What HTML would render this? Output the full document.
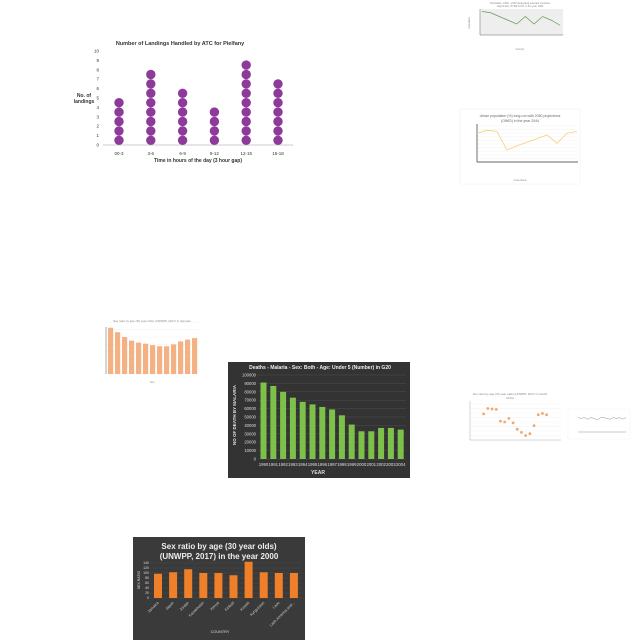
<!DOCTYPE html>
<html><head><meta charset="utf-8"><style>
body{margin:0;width:640px;height:640px;background:#fff;overflow:hidden;font-family:"Liberation Sans",sans-serif}
svg{position:absolute;left:0;top:0}
</style></head><body>
<svg id="s" width="640" height="640"></svg>
<script>
// Dot chart data
const dotCats=["00-3","3-6","6-9","9-12","12-15","15-18"];
const dotVals=[5,8,6,4,9,7];
const dotTicks=[0,1,2,3,4,5,6,7,8,9,10];
// Malaria data
const malYears=["1990","1991","1992","1993","1994","1995","1996","1997","1998","1999","2000","2001","2002","2003","2004"];
const malVals=[91000,87000,80000,73000,68000,65000,62000,59000,52000,41000,33000,33000,37000,37000,35000];
const malTicks=[0,10000,20000,30000,40000,50000,60000,70000,80000,90000,100000];
// Orange sex ratio
const orCats=["Jamaica","Japan","Jordan","Kazakhstan","Kenya","Kiribati","Kuwait","Kyrgyzstan","Laos","Latin America and..."];
const orVals=[97,103,115,100,100,91,145,103,100,100];
const orTicks=[0,20,40,60,80,100,120,140];
// small green line
const grVals=[9,8.5,7,5.5,4,7,4,7,5.5,3.5];
// urban line
const urVals=[80,88,85,33,45,55,65,75,52,80,85];
// small salmon bars
const smVals=[125,113,100,90,85,82,78,75,75,80,88,93,97];
// scatter
const scX=[1958,1962,1966,1970,1974,1978,1982,1986,1990,1994,1998,2002,2006,2010,2014,2018];
const scY=[108,120,119,118,92,90,98,88,74,67,60,64,82,106,109,106];
// tiny wave
const wvVals=[8,7,8,6,8,7,5,8,8,7,6,8,7,8,6,8];

const S=document.getElementById('s');const NS="http://www.w3.org/2000/svg";
function el(t,a,txt){const e=document.createElementNS(NS,t);for(const k in a)e.setAttribute(k,a[k]);if(txt!==undefined)e.textContent=txt;S.appendChild(e);return e;}

// ===== Dot chart =====
{const y=v=>145-v*9.4, x=i=>119+i*31.8;
let t=el('text',{x:180,y:45,'font-size':5.5,'font-weight':'bold','text-anchor':'middle',fill:'#333'},'Number of Landings Handled by ATC for Pielfany');

dotTicks.forEach(v=>{let e=el('text',{x:99,y:y(v)+1.5,'font-size':4.5,'text-anchor':'end',fill:'#333'},v);});
let a=el('line',{x1:103,x2:293,y1:145,y2:145,stroke:'#bbb','stroke-width':0.7});
el('text',{x:84,y:97,'font-size':5,'font-weight':'bold','text-anchor':'middle',fill:'#333'},'No. of');
el('text',{x:84,y:103,'font-size':5,'font-weight':'bold','text-anchor':'middle',fill:'#333'},'landings');
dotCats.forEach((c,i)=>{let e=el('text',{x:x(i),y:155,'font-size':4.5,'text-anchor':'middle',fill:'#333'},c);
for(let k=0;k<dotVals[i];k++){let d=el('circle',{cx:x(i),cy:y(k+0.5),r:4.7,fill:'#8e3a9b'});}});
el('text',{x:198,y:162,'font-size':5,'font-weight':'bold','text-anchor':'middle',fill:'#333'},'Time in hours of the day (3 hour gap)');}

// ===== green line chart =====
{el('text',{x:520,y:4,'font-size':2.5,'text-anchor':'middle',fill:'#888'},'Population, 1800 - 2100 (projected) selected countries');
el('text',{x:520,y:7,'font-size':2.5,'text-anchor':'middle',fill:'#888'},'Gapminder, HYDE & UN, in the year 1950');
let r=el('rect',{x:480,y:9,width:83,height:26,fill:'#eeeeee'});
el('line',{x1:480,x2:480,y1:9,y2:35,stroke:'#666','stroke-width':0.5});el('line',{x1:480,x2:563,y1:35,y2:35,stroke:'#666','stroke-width':0.5});
const x=i=>482+i*(78/(grVals.length-1)), y=v=>34-v*2.5;
let p=el('polyline',{points:grVals.map((v,i)=>x(i)+','+y(v)).join(' '),fill:'none',stroke:'#6a9a4f','stroke-width':0.7});
el('text',{x:470,y:23,'font-size':2.5,fill:'#888',transform:'rotate(-90 470 23)','text-anchor':'middle'},'Population');
el('text',{x:520,y:50,'font-size':2.5,fill:'#888','text-anchor':'middle'},'Country');}

// ===== urban line chart =====
{el('rect',{x:460,y:109,width:120,height:75,fill:'#fff',stroke:'#eee','stroke-width':0.5});
el('text',{x:520,y:117,'font-size':3.5,'text-anchor':'middle',fill:'#666'},'Urban population (%) long-run with 2050 projections');
el('text',{x:520,y:122,'font-size':3.5,'text-anchor':'middle',fill:'#666'},'(OWID) in the year 2044');
const y=v=>162-v*0.36, x=i=>477+i*(100/(urVals.length-1));
for(let v=0;v<=100;v+=10)el('line',{x1:477,x2:578,y1:y(v),y2:y(v),stroke:'#eee','stroke-width':0.4});
el('line',{x1:477,x2:477,y1:124,y2:162,stroke:'#333','stroke-width':0.7});el('line',{x1:477,x2:578,y1:162,y2:162,stroke:'#333','stroke-width':0.7});
let p=el('polyline',{points:urVals.map((v,i)=>x(i)+','+y(v)).join(' '),fill:'none',stroke:'#f5cf7a','stroke-width':0.8});
el('text',{x:520,y:181,'font-size':3,'text-anchor':'middle',fill:'#888'},'Countries');}

// ===== small salmon bars =====
{el('text',{x:152,y:322,'font-size':3,'text-anchor':'middle',fill:'#888'},'Sex ratio by age (30 year olds) (UNWPP, 2017) in Vanuatu');
const y=v=>374-v*0.37, bw=5.2, x=i=>108+i*7;
for(let v=0;v<=140;v+=20)el('line',{x1:106,x2:198,y1:y(v),y2:y(v),stroke:'#eee','stroke-width':0.4});
el('line',{x1:106,x2:106,y1:327,y2:374,stroke:'#555','stroke-width':0.5});
smVals.forEach((v,i)=>{let r=el('rect',{x:x(i),y:y(v),width:bw,height:374-y(v),fill:'#f4b183'});});
el('text',{x:152,y:383,'font-size':2.5,'text-anchor':'middle',fill:'#888'},'Year');}

// ===== malaria =====
{let bg=el('rect',{x:228,y:362,width:182,height:116,fill:'#333'});
let t=el('text',{x:320,y:369,'font-size':5,'font-weight':'bold','text-anchor':'middle',fill:'#eee'},'Deaths - Malaria - Sex: Both - Age: Under 5 (Number) in G20');
const y=v=>459-v*0.00084, x=i=>259+i*9.8;
malTicks.forEach(v=>{el('line',{x1:258,x2:406,y1:y(v),y2:y(v),stroke:'#555','stroke-width':0.4});let e=el('text',{x:256,y:y(v)+1.5,'font-size':4.2,'text-anchor':'end',fill:'#ddd'},v);});
malVals.forEach((v,i)=>{let r=el('rect',{x:x(i)+1.5,y:y(v),width:6,height:459-y(v),fill:'#7dc14a'});
el('text',{x:x(i)+4.5,y:466,'font-size':4.3,'text-anchor':'middle',fill:'#ddd'},malYears[i]);});
el('text',{x:318,y:474,'font-size':5,'font-weight':'bold','text-anchor':'middle',fill:'#ddd'},'YEAR');
el('text',{x:236,y:415,'font-size':4.5,'font-weight':'bold','text-anchor':'middle',fill:'#ddd',transform:'rotate(-90 236 415)'},'NO OF DEATH BY MALARIA');}

// ===== orange =====
{let bg=el('rect',{x:133,y:537,width:172,height:103,fill:'#3a3a3a'});
el('text',{x:219,y:549,'font-size':8,'font-weight':'bold','text-anchor':'middle',fill:'#eee'},'Sex ratio by age (30 year olds)');
el('text',{x:219,y:559,'font-size':8,'font-weight':'bold','text-anchor':'middle',fill:'#eee'},'(UNWPP, 2017) in the year 2000');
const y=v=>598-v*0.25, x=i=>152+i*15.1;
orTicks.forEach(v=>{el('line',{x1:150,x2:302,y1:y(v),y2:y(v),stroke:'#555','stroke-width':0.3});el('text',{x:149,y:y(v)+1.2,'font-size':3.5,'text-anchor':'end',fill:'#ddd'},v);});
orVals.forEach((v,i)=>{let r=el('rect',{x:x(i)+2,y:y(v),width:8,height:598-y(v),fill:'#f07f2a'});
el('text',{x:x(i)+7,y:603,'font-size':3.8,'text-anchor':'end',fill:'#ccc',transform:`rotate(-45 ${x(i)+7} 603)`},orCats[i]);});
el('text',{x:140,y:580,'font-size':3.5,'text-anchor':'middle',fill:'#ddd',transform:'rotate(-90 140 580)'},'SEX RATIO');
el('text',{x:220,y:633,'font-size':3.8,'text-anchor':'middle',fill:'#ddd'},'COUNTRY');}

// ===== scatter =====
{el('text',{x:510,y:395,'font-size':3,'text-anchor':'middle',fill:'#888'},'Sex ratio by age (30 year olds) (UNWPP, 2017) in South');
el('text',{x:510,y:399,'font-size':3,'text-anchor':'middle',fill:'#888'},'Africa');
const x=v=>470+(v-1945)*1.05, y=v=>440-(v-50)*0.45;
for(let v=60;v<=130;v+=10)el('line',{x1:470,x2:561,y1:y(v),y2:y(v),stroke:'#eee','stroke-width':0.4});
el('line',{x1:470,x2:470,y1:401,y2:440,stroke:'#999','stroke-width':0.4});el('line',{x1:470,x2:561,y1:440,y2:440,stroke:'#999','stroke-width':0.4});
scX.forEach((v,i)=>{let c=el('circle',{cx:x(v),cy:y(scY[i]),r:1.4,fill:'#f3a76b'});});
el('rect',{x:568,y:409,width:62,height:30,fill:'#fff',stroke:'#eee','stroke-width':0.4});
const wx=i=>578+i*(48/(wvVals.length-1)), wy=v=>424-v*0.8;
el('polyline',{points:wvVals.map((v,i)=>wx(i)+','+wy(v)).join(' '),fill:'none',stroke:'#777','stroke-width':0.4});
el('line',{x1:578,x2:626,y1:432,y2:432,stroke:'#777','stroke-width':0.4});}
</script></body></html>
